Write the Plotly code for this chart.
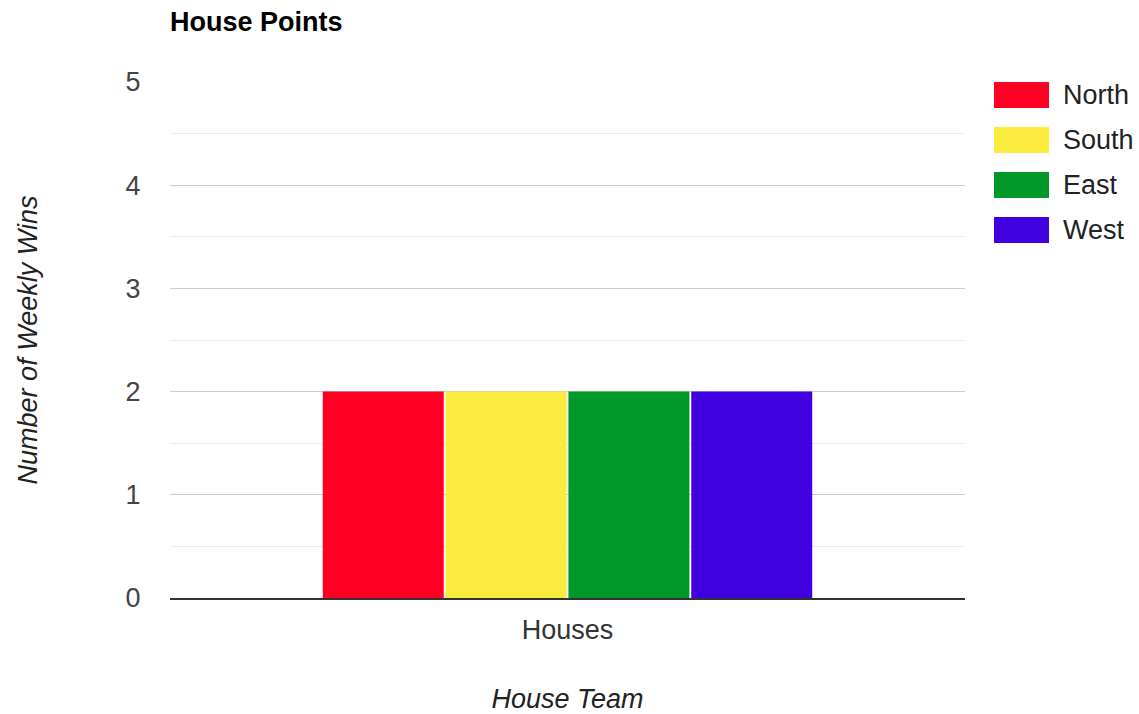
import plotly.graph_objects as go

# ---- data ----
categories = ["Houses"]
series_names = ["North", "South", "East", "West"]
series_values = [[2], [2], [2], [2]]
series_colors = ["#FF0022", "#FBEB3F", "#009929", "#4000E0"]
y_tick_vals = [0, 1, 2, 3, 4, 5]

W, H = 1139, 714
ML, MR, MT, MB = 170, 174, 82, 116
PW, PH = W - ML - MR, H - MT - MB

def px_x(x):
    return (x - ML) / PW

def px_y(y):
    return (H - MB - y) / PH

FONT = "Arial, Liberation Sans, sans-serif"

fig = go.Figure()
for name, vals, col in zip(series_names, series_values, series_colors):
    fig.add_trace(go.Bar(x=categories, y=vals, name=name,
                         marker=dict(color=col, line=dict(width=0))))

fig.update_layout(
    width=W, height=H,
    margin=dict(l=ML, r=MR, t=MT, b=MB, autoexpand=False),
    paper_bgcolor="white", plot_bgcolor="white",
    showlegend=False,
    barmode="group", bargap=0.382, bargroupgap=0.015,
    font=dict(family=FONT, size=27, color="#444444"),
    title=dict(text="House Points", x=ML / W, xref="container", xanchor="left",
               y=1 - 22 / H, yref="container", yanchor="middle",
               font=dict(family=FONT, size=27, color="#000000", weight=700)),
)

fig.update_xaxes(
    showline=True, linecolor="#333333", linewidth=2,
    showgrid=False, zeroline=False,
    ticks="outside", ticklen=7, tickcolor="rgba(0,0,0,0)",
    tickfont=dict(color="#333333", size=27),
    title=dict(text="House Team", standoff=46,
               font=dict(family=FONT, size=27, color="#222222", style="italic")),
    automargin=False,
)

fig.update_yaxes(
    range=[0, 5], tickvals=y_tick_vals,
    showgrid=True, gridcolor="#cccccc", gridwidth=1,
    minor=dict(dtick=0.5, showgrid=True, gridcolor="#ebebeb", gridwidth=1),
    zeroline=False, showline=False,
    ticks="outside", ticklen=23, tickcolor="rgba(0,0,0,0)",
    tickfont=dict(color="#444444", size=27),
    title=dict(text="Number of Weekly Wins", standoff=80,
               font=dict(family=FONT, size=27, color="#222222", style="italic")),
    automargin=False,
)

# legend drawn as swatches + labels, built from series arrays
for i, (name, col) in enumerate(zip(series_names, series_colors)):
    top = 82 + 45 * i
    fig.add_shape(type="rect", xref="paper", yref="paper",
                  x0=px_x(994), x1=px_x(1049), y0=px_y(top + 26), y1=px_y(top),
                  fillcolor=col, line=dict(width=0), layer="above")
    fig.add_annotation(xref="paper", yref="paper", x=px_x(1061), y=px_y(top + 13),
                       xanchor="left", yanchor="middle", text=name, showarrow=False,
                       font=dict(family=FONT, size=27, color="#222222"))

fig.write_html("out.html", config={"displayModeBar": False},
               post_script="document.body.style.margin='0';")
